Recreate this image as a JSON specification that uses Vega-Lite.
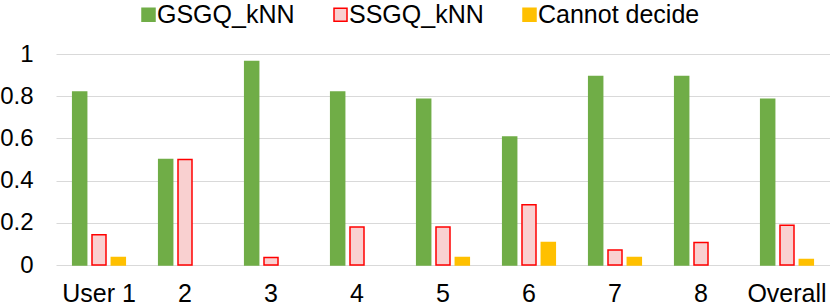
{
  "$schema": "https://vega.github.io/schema/vega-lite/v6.json",
  "width": 774,
  "height": 211,
  "autosize": {"type": "none"},
  "padding": {"left": 56, "top": 54, "right": 0, "bottom": 41},
  "background": "white",
  "config": {
    "view": {"stroke": null},
    "font": "Liberation Sans, Arial, sans-serif"
  },
  "data": {
    "values": [
      {"user": "User 1", "method": "GSGQ_kNN", "value": 0.82},
      {"user": "User 1", "method": "SSGQ_kNN", "value": 0.143},
      {"user": "User 1", "method": "Cannot decide", "value": 0.036},
      {"user": "2", "method": "GSGQ_kNN", "value": 0.5},
      {"user": "2", "method": "SSGQ_kNN", "value": 0.5},
      {"user": "3", "method": "GSGQ_kNN", "value": 0.964},
      {"user": "3", "method": "SSGQ_kNN", "value": 0.036},
      {"user": "4", "method": "GSGQ_kNN", "value": 0.82},
      {"user": "4", "method": "SSGQ_kNN", "value": 0.18},
      {"user": "5", "method": "GSGQ_kNN", "value": 0.786},
      {"user": "5", "method": "SSGQ_kNN", "value": 0.18},
      {"user": "5", "method": "Cannot decide", "value": 0.036},
      {"user": "6", "method": "GSGQ_kNN", "value": 0.607},
      {"user": "6", "method": "SSGQ_kNN", "value": 0.286},
      {"user": "6", "method": "Cannot decide", "value": 0.107},
      {"user": "7", "method": "GSGQ_kNN", "value": 0.893},
      {"user": "7", "method": "SSGQ_kNN", "value": 0.071},
      {"user": "7", "method": "Cannot decide", "value": 0.036},
      {"user": "8", "method": "GSGQ_kNN", "value": 0.893},
      {"user": "8", "method": "SSGQ_kNN", "value": 0.107},
      {"user": "Overall", "method": "GSGQ_kNN", "value": 0.786},
      {"user": "Overall", "method": "SSGQ_kNN", "value": 0.188},
      {"user": "Overall", "method": "Cannot decide", "value": 0.026}
    ]
  },
  "mark": {"type": "bar", "strokeWidth": 1.5},
  "encoding": {
    "x": {
      "field": "user",
      "type": "nominal",
      "sort": ["User 1", "2", "3", "4", "5", "6", "7", "8", "Overall"],
      "scale": {"paddingInner": 0.388, "paddingOuter": 0.194},
      "axis": {
        "title": null,
        "labelAngle": 0,
        "domain": false,
        "ticks": false,
        "labelPadding": 16,
        "labelFontSize": 25,
        "labelColor": "#000000"
      }
    },
    "xOffset": {
      "field": "method",
      "type": "nominal",
      "sort": ["GSGQ_kNN", "SSGQ_kNN", "Cannot decide"],
      "scale": {"paddingInner": 0.275, "paddingOuter": 0}
    },
    "y": {
      "field": "value",
      "type": "quantitative",
      "scale": {"domain": [0, 1], "nice": false},
      "axis": {
        "title": null,
        "values": [0, 0.2, 0.4, 0.6, 0.8, 1],
        "format": ".1~f",
        "domain": false,
        "ticks": false,
        "labelPadding": 23,
        "labelFontSize": 24,
        "labelColor": "#000000",
        "gridColor": "#D9D9D9",
        "gridWidth": 1.2
      }
    },
    "fill": {
      "field": "method",
      "type": "nominal",
      "sort": ["GSGQ_kNN", "SSGQ_kNN", "Cannot decide"],
      "scale": {
        "domain": ["GSGQ_kNN", "SSGQ_kNN", "Cannot decide"],
        "range": ["#70AD47", "#F9D0D0", "#FFC000"]
      },
      "legend": {
        "title": null,
        "orient": "none",
        "direction": "horizontal",
        "legendX": 80,
        "legendY": -52,
        "padding": 0,
        "symbolType": "square",
        "symbolSize": 169,
        "symbolStrokeWidth": 1.5,
        "labelFontSize": 25,
        "labelColor": "#000000",
        "labelOffset": -4,
        "labelLimit": 400,
        "columnPadding": 33
      }
    },
    "stroke": {
      "field": "method",
      "type": "nominal",
      "sort": ["GSGQ_kNN", "SSGQ_kNN", "Cannot decide"],
      "scale": {
        "domain": ["GSGQ_kNN", "SSGQ_kNN", "Cannot decide"],
        "range": ["#70AD47", "#FF0000", "#FFC000"]
      }
    }
  }
}
